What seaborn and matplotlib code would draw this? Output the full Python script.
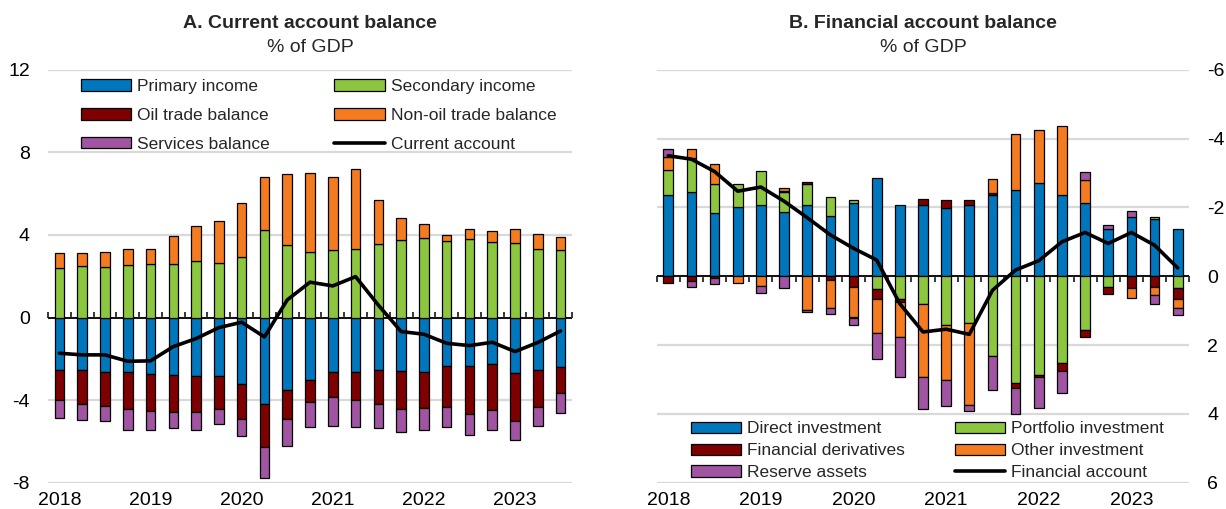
import matplotlib
matplotlib.use("Agg")
import matplotlib.pyplot as plt
from matplotlib.patches import Patch
from matplotlib.lines import Line2D
import numpy as np
import seaborn as sns

# Quarters 2018Q1 .. 2023Q3
quarters = [f"{y}Q{q}" for y in range(2018, 2024) for q in range(1, 5)][:23]
year_labels = ["2018", "2019", "2020", "2021", "2022", "2023"]

# Panel A: current account components (% of GDP)
primary_income = [-2.54, -2.56, -2.62, -2.62, -2.75, -2.78, -2.81, -2.81, -3.20, -4.20, -3.53, -3.01,
                  -2.65, -2.64, -2.56, -2.60, -2.62, -2.33, -2.33, -2.23, -2.70, -2.54, -2.41]
secondary_income = [2.39, 2.49, 2.46, 2.56, 2.59, 2.57, 2.72, 2.65, 2.91, 4.23, 3.51, 3.17,
                    3.27, 3.34, 3.56, 3.76, 3.84, 3.71, 3.80, 3.64, 3.61, 3.34, 3.25]
oil_trade = [-1.47, -1.63, -1.67, -1.83, -1.80, -1.80, -1.77, -1.61, -1.72, -2.06, -1.40, -1.08,
             -1.20, -1.34, -1.63, -1.83, -1.75, -1.99, -2.34, -2.25, -2.33, -1.79, -1.23]
non_oil_trade = [0.73, 0.65, 0.73, 0.76, 0.74, 1.37, 1.70, 2.00, 2.62, 2.58, 3.44, 3.81,
                 3.51, 3.86, 2.15, 1.04, 0.70, 0.28, 0.48, 0.56, 0.67, 0.69, 0.65]
services = [-0.87, -0.79, -0.74, -1.02, -0.92, -0.79, -0.87, -0.75, -0.84, -1.51, -1.30, -1.20,
            -1.42, -1.31, -1.15, -1.12, -1.07, -0.97, -1.04, -0.97, -0.92, -0.91, -0.97]
current_account = [-1.73, -1.81, -1.81, -2.12, -2.10, -1.41, -1.02, -0.49, -0.23, -0.94, 0.85, 1.71,
                   1.53, 1.98, 0.60, -0.68, -0.81, -1.25, -1.36, -1.20, -1.65, -1.21, -0.65]

# Panel B: financial account components (% of GDP, axis inverted)
direct_inv = [-2.37, -2.45, -1.83, -2.00, -2.08, -1.87, -2.08, -1.76, -2.13, -2.85, -2.08, -2.08,
              -1.97, -2.08, -2.37, -2.51, -2.71, -2.37, -2.13, -1.36, -1.72, -1.66, -1.38]
portfolio_inv = [-0.72, -0.97, -0.86, -0.67, -0.99, -0.57, -0.61, -0.53, -0.09, 0.36, 0.66, 0.80,
                 1.43, 1.36, 2.31, 3.09, 2.86, 2.53, 1.57, 0.32, 0.00, -0.07, 0.34]
fin_derivatives = [0.20, 0.14, 0.05, 0.00, 0.00, -0.05, -0.06, 0.12, 0.30, 0.30, 0.09, -0.15,
                   -0.23, -0.12, -0.05, 0.16, 0.08, 0.23, 0.19, 0.19, 0.35, 0.30, 0.32]
other_inv = [-0.38, -0.28, -0.58, 0.20, 0.29, -0.08, 0.97, 0.80, 0.90, 1.00, 1.01, 2.12,
             1.58, 2.37, -0.39, -1.61, -1.55, -1.99, -0.67, 0.00, 0.29, 0.26, 0.26]
reserve_assets = [-0.23, 0.17, 0.19, 0.00, 0.20, 0.34, 0.08, 0.18, 0.21, 0.74, 1.17, 0.94,
                  0.77, 0.19, 0.99, 0.74, 0.89, 0.63, -0.22, -0.13, -0.17, 0.26, 0.21]
financial_account = [-3.50, -3.40, -3.04, -2.47, -2.59, -2.18, -1.70, -1.20, -0.81, -0.47, 0.80, 1.62,
                     1.54, 1.69, 0.41, -0.18, -0.45, -1.00, -1.27, -0.95, -1.27, -0.90, -0.24]

BLUE = "#0077BD"
GREEN = "#8CC63F"
DARKRED = "#7F0000"
ORANGE = "#F47B20"
PURPLE = "#A154A1"

sns.set_theme(style="white")
plt.rcParams["font.family"] = ["Liberation Sans Narrow", "Liberation Sans", "DejaVu Sans"]
plt.rcParams["axes.unicode_minus"] = False

n = len(quarters)
x = np.arange(n)


def stacked_bars(ax, series, colors, width=0.42):
    # diverging stack: positives build up from 0, negatives build down from 0
    pos_base = np.zeros(n)
    neg_base = np.zeros(n)
    for vals, col in zip(series, colors):
        vals = np.asarray(vals, dtype=float)
        base = np.where(vals >= 0, pos_base, neg_base)
        lw = np.where(vals == 0, 0, 0.9)
        ax.bar(x, vals, width, bottom=base, color=col, edgecolor="black", linewidth=lw, zorder=2)
        pos_base += np.where(vals > 0, vals, 0)
        neg_base += np.where(vals < 0, vals, 0)


def style_axis(ax, zero_frac, tick_side):
    for s in ax.spines.values():
        s.set_visible(False)
    ax.set_axisbelow(True)
    ax.grid(axis="y", color="#d9d9d9", lw=1.6)
    ax.grid(axis="x", visible=False)
    ax.set_xlim(-0.5, n - 0.5)
    ax.set_xticks(np.arange(0, n, 4), year_labels)
    ax.tick_params(axis="x", length=0, pad=7, labelsize=14, colors="black")
    ax.tick_params(axis="y", length=0, pad=13, labelsize=14, colors="black")
    ax.axhline(0, color="black", lw=1.3, zorder=1.5)
    # small quarter ticks sitting on the zero line
    sec = ax.secondary_xaxis(zero_frac)
    sec.set_xticks(np.arange(n + 1) - 0.5)
    sec.xaxis.set_ticks_position(tick_side)
    sec.tick_params(axis="x", direction="in", length=4.5, width=1.1, colors="black",
                    labelbottom=False, labeltop=False)
    for s in sec.spines.values():
        s.set_visible(False)


fig = plt.figure(figsize=(12.26, 5.09), dpi=100)
ax_a = fig.add_axes([48 / 1226, 26.3 / 509, 524 / 1226, 413 / 509])
ax_b = fig.add_axes([656.7 / 1226, 26.3 / 509, 532.6 / 1226, 413 / 509])

# Panel A
stacked_bars(ax_a, [primary_income, secondary_income, oil_trade, non_oil_trade, services],
             [BLUE, GREEN, DARKRED, ORANGE, PURPLE])
sns.lineplot(x=x, y=current_account, ax=ax_a, color="black", linewidth=2.6, zorder=4)
ax_a.set_ylim(-8, 12)
ax_a.set_yticks(np.arange(-8, 13, 4))
style_axis(ax_a, 0.4, "bottom")

handles_a = [
    Patch(facecolor=BLUE, edgecolor="black", lw=0.9, label="Primary income"),
    Patch(facecolor=DARKRED, edgecolor="black", lw=0.9, label="Oil trade balance"),
    Patch(facecolor=PURPLE, edgecolor="black", lw=0.9, label="Services balance"),
    Patch(facecolor=GREEN, edgecolor="black", lw=0.9, label="Secondary income"),
    Patch(facecolor=ORANGE, edgecolor="black", lw=0.9, label="Non-oil trade balance"),
    Line2D([], [], color="black", lw=2.6, label="Current account"),
]
ax_a.legend(handles=handles_a, ncol=2, loc="upper left", bbox_to_anchor=(0.063, 0.977),
            frameon=False, fontsize=12.5, borderpad=0, borderaxespad=0,
            handlelength=2.9, handleheight=0.62, handletextpad=0.35,
            labelspacing=0.8, columnspacing=3.7)

# Panel B
stacked_bars(ax_b, [direct_inv, portfolio_inv, fin_derivatives, other_inv, reserve_assets],
             [BLUE, GREEN, DARKRED, ORANGE, PURPLE])
sns.lineplot(x=x, y=financial_account, ax=ax_b, color="black", linewidth=2.6, zorder=4)
ax_b.set_ylim(6, -6)
ax_b.set_yticks(np.arange(-6, 7, 2))
ax_b.yaxis.tick_right()
style_axis(ax_b, 0.5, "top")

handles_b = [
    Patch(facecolor=BLUE, edgecolor="black", lw=0.9, label="Direct investment"),
    Patch(facecolor=DARKRED, edgecolor="black", lw=0.9, label="Financial derivatives"),
    Patch(facecolor=PURPLE, edgecolor="black", lw=0.9, label="Reserve assets"),
    Patch(facecolor=GREEN, edgecolor="black", lw=0.9, label="Portfolio investment"),
    Patch(facecolor=ORANGE, edgecolor="black", lw=0.9, label="Other investment"),
    Line2D([], [], color="black", lw=2.6, label="Financial account"),
]
ax_b.legend(handles=handles_b, ncol=2, loc="lower left", bbox_to_anchor=(0.064, 0.006),
            frameon=False, fontsize=12.5, borderpad=0, borderaxespad=0,
            handlelength=2.9, handleheight=0.62, handletextpad=0.35,
            labelspacing=0.4, columnspacing=2.85)

# Titles
for ax, title in [(ax_a, "A. Current account balance"), (ax_b, "B. Financial account balance")]:
    bb = ax.get_position()
    cx = (bb.x0 + bb.x1) / 2
    fig.text(cx, 1 - 23 / 509, title, ha="center", va="center", fontsize=14, fontweight="bold")
    fig.text(cx, 1 - 47 / 509, "% of GDP", ha="center", va="center", fontsize=14)

fig.savefig("out.png", dpi=100)
